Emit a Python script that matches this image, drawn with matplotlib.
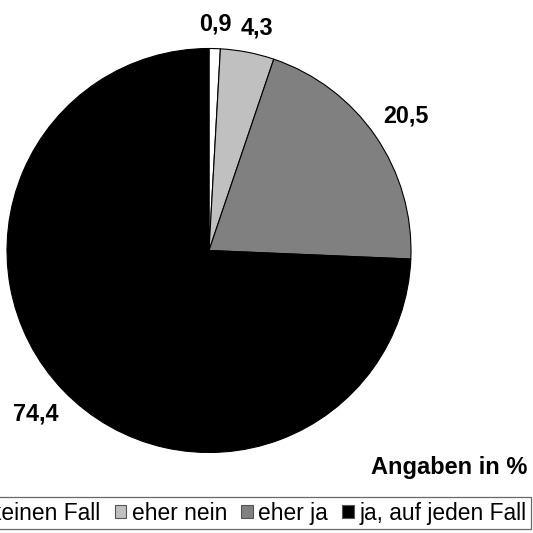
import matplotlib
matplotlib.use("Agg")
import matplotlib.pyplot as plt
from matplotlib.patches import Patch

plt.rcParams['font.family'] = ['Liberation Sans', 'DejaVu Sans']

categories = ["nein, auf keinen Fall", "eher nein", "eher ja", "ja, auf jeden Fall"]
values = [0.9, 4.3, 20.5, 74.4]
labels = ["0,9", "4,3", "20,5", "74,4"]
colors = ["#ffffff", "#c0c0c0", "#808080", "#000000"]

W, H = 533, 533
fig = plt.figure(figsize=(W/100, H/100), dpi=100)
cx, cy, r = 209, 250.5, 202
ax = fig.add_axes([(cx - r)/W, (H - cy - r)/H, 2*r/W, 2*r/H])
wedges, _ = ax.pie(values, colors=colors, startangle=90, counterclock=False,
                   radius=1, wedgeprops=dict(edgecolor="black", linewidth=0.8))
ax.set_xlim(-1, 1); ax.set_ylim(-1, 1)
ax.set_aspect('equal')

label_pos = [(215.5, 24.5), (257, 28), (405.5, 115.5), (36, 414)]
for lab, (x, y) in zip(labels, label_pos):
    fig.text(x/W, 1 - y/H, lab, ha='center', va='center', fontsize=16.8, fontweight='bold')

fig.text(527/W, 1 - 474/H, "Angaben in %", ha='right', va='baseline', fontsize=17, fontweight='bold')

handles = [Patch(facecolor=c, edgecolor="#555555", linewidth=0.8) for c in colors]
leg = fig.legend(handles, categories, ncol=4, loc='upper right',
                 bbox_to_anchor=(531/W, 1 - 497/H), fontsize=16.4, frameon=True,
                 fancybox=False, edgecolor="#444444", handlelength=0.5, handleheight=0.5,
                 handletextpad=0.25, columnspacing=0.62, borderpad=0.2, borderaxespad=0)
leg.get_frame().set_linewidth(0.9)

fig.savefig("out.png", dpi=100)
